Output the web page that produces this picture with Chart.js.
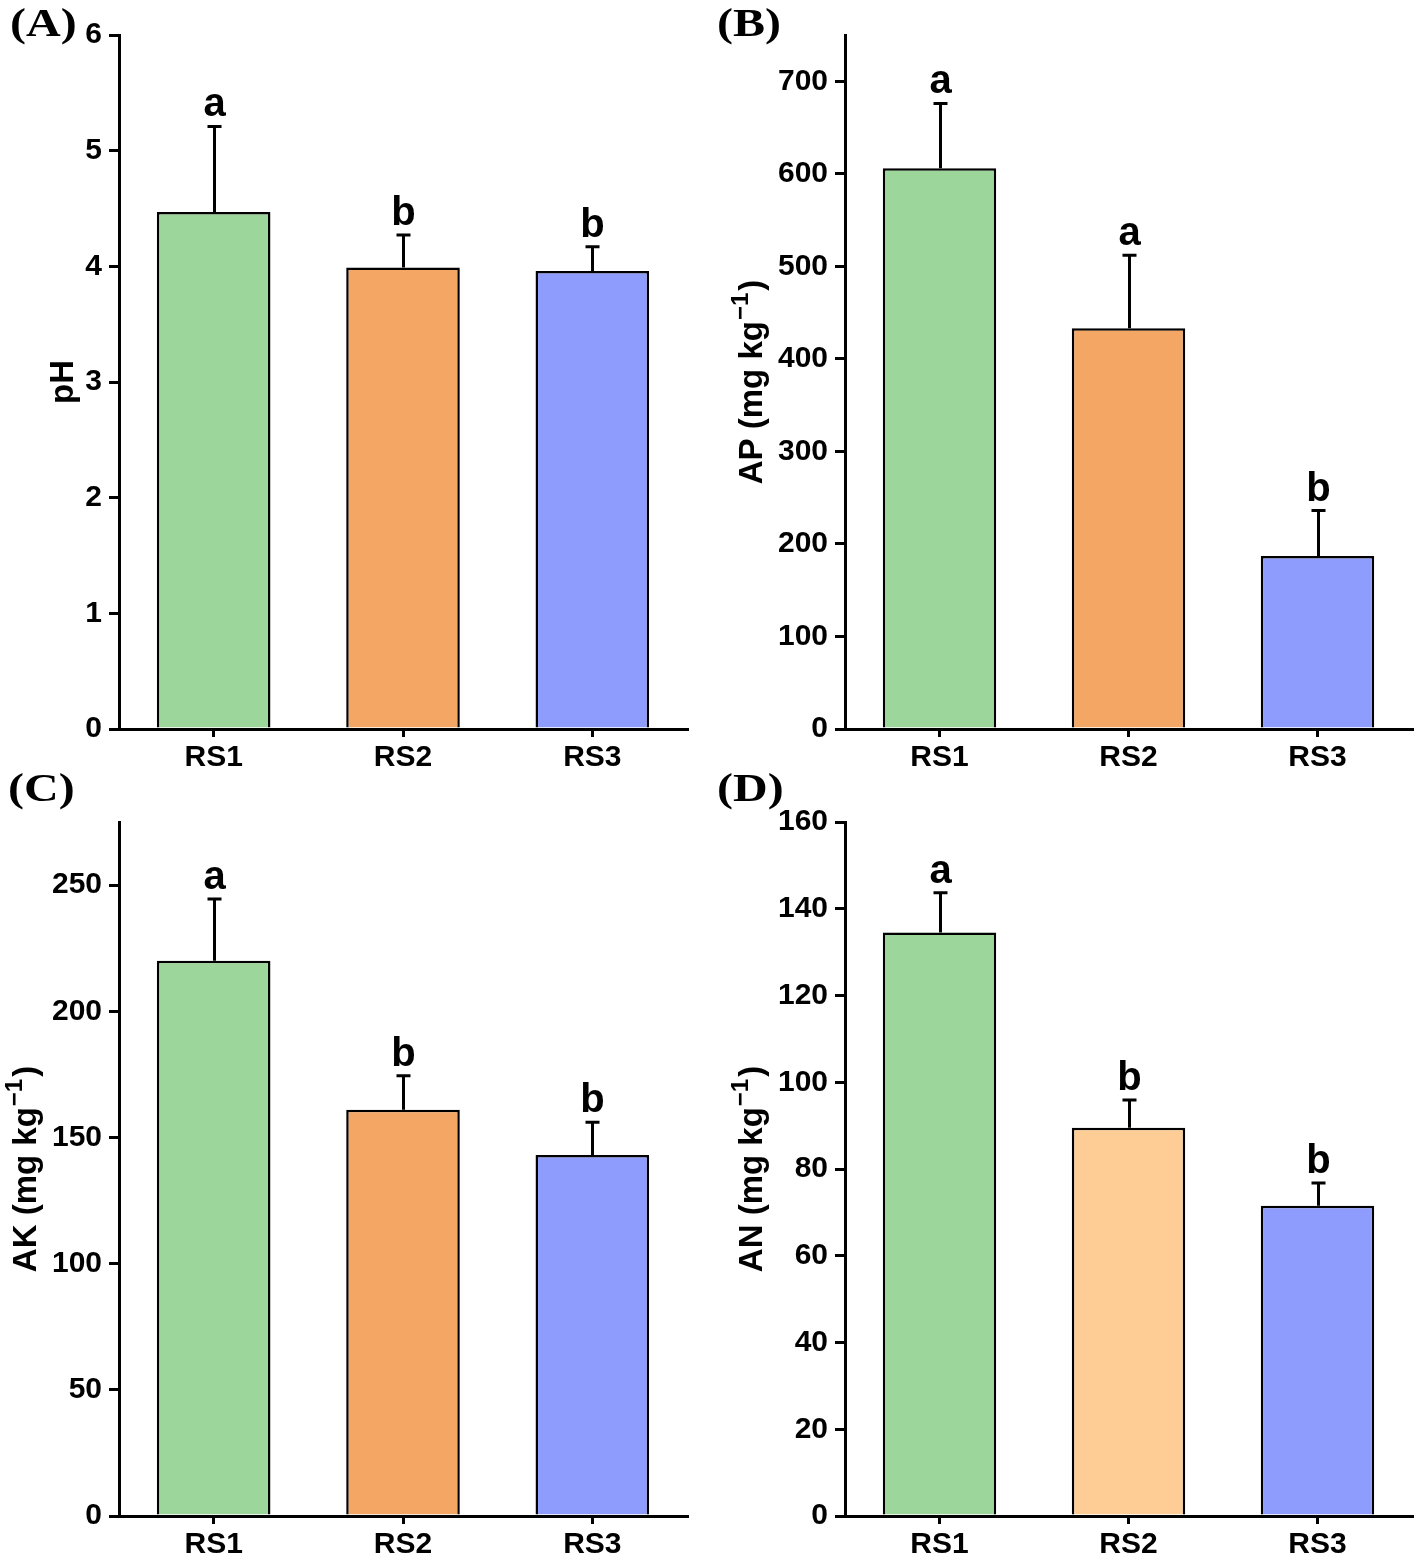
<!DOCTYPE html>
<html><head><meta charset="utf-8">
<script src="https://cdn.jsdelivr.net/npm/chart.js@4.4.1/dist/chart.umd.min.js"></script>
<style>
html,body{margin:0;padding:0;background:#fff;}
body{width:1416px;height:1562px;position:relative;overflow:hidden;}
canvas{position:absolute;}
</style></head><body>
<canvas id="cA" width="708" height="781" style="left:0px;top:0px;width:708px;height:781px"></canvas>
<canvas id="cB" width="708" height="781" style="left:708px;top:0px;width:708px;height:781px"></canvas>
<canvas id="cC" width="708" height="802" style="left:0px;top:760px;width:708px;height:802px"></canvas>
<canvas id="cD" width="708" height="802" style="left:708px;top:760px;width:708px;height:802px"></canvas>
<script>
// ---- data ----
const categories = ['RS1', 'RS2', 'RS3'];

const phMean = [4.47, 3.99, 3.96];
const phErr = [0.74, 0.28, 0.21];
const phLetters = ['a', 'b', 'b'];

const apMean = [606, 433, 187];
const apErr = [70, 79, 49];
const apLetters = ['a', 'a', 'b'];

const akMean = [220, 161, 143];
const akErr = [24.5, 13.5, 13];
const akLetters = ['a', 'b', 'b'];

const anMean = [134.5, 89.5, 71.5];
const anErr = [9.2, 6.4, 5.3];
const anLetters = ['a', 'b', 'b'];

const colorsABC = ['#9dd69b', '#f4a664', '#8e9cfd'];
const colorsD = ['#9dd69b', '#fdcd95', '#8e9cfd'];

const SANS = "'Liberation Sans', Arial, sans-serif";
const SERIF = "'Liberation Serif', 'Times New Roman', serif";

Chart.defaults.font.family = SANS;
Chart.defaults.color = '#000';

function makePanel(id, cfg) {
  const extras = {
    id: 'extras_' + id,
    afterDatasetsDraw(chart) {
      const ctx = chart.ctx;
      const y = chart.scales.y;
      const meta = chart.getDatasetMeta(0);
      ctx.save();
      ctx.strokeStyle = '#000';
      ctx.lineWidth = 3;
      ctx.fillStyle = '#000';
      meta.data.forEach((bar, i) => {
        const xc = Math.round(bar.x) + 0.5;
        const yTop = y.getPixelForValue(cfg.mean[i]);
        const yErr = y.getPixelForValue(cfg.mean[i] + cfg.err[i]);
        ctx.beginPath();
        ctx.moveTo(xc, yTop);
        ctx.lineTo(xc, yErr);
        ctx.moveTo(xc - 7, yErr);
        ctx.lineTo(xc + 7, yErr);
        ctx.stroke();
        ctx.font = 'bold 40px ' + SANS;
        ctx.textAlign = 'center';
        ctx.textBaseline = 'alphabetic';
        ctx.fillText(cfg.letters[i], xc, yErr - 10);
      });
      ctx.restore();
    },
    afterDraw(chart) {
      const ctx = chart.ctx;
      ctx.save();
      // panel label
      ctx.fillStyle = '#000';
      ctx.font = 'bold 40px ' + SERIF;
      ctx.textAlign = 'left';
      ctx.textBaseline = 'alphabetic';
      ctx.translate(cfg.labelX, cfg.labelY);
      ctx.scale(1.2, 1);
      ctx.fillText(cfg.label, 0, 0);
      ctx.restore();
      // y axis title with superscript
      ctx.save();
      const cy = (chart.chartArea.top + chart.chartArea.bottom) / 2;
      ctx.translate(cfg.titleX, cy);
      ctx.rotate(-Math.PI / 2);
      ctx.fillStyle = '#000';
      ctx.textBaseline = 'alphabetic';
      ctx.textAlign = 'left';
      const mainFont = 'bold 33px ' + SANS;
      const supFont = 'bold 24px ' + SANS;
      ctx.font = mainFont;
      const w1 = ctx.measureText(cfg.titleMain).width;
      const w3 = cfg.titleSup ? ctx.measureText(')').width : 0;
      ctx.font = supFont;
      const w2 = cfg.titleSup ? ctx.measureText(cfg.titleSup).width + 3 : 0;
      const total = w1 + w2 + w3;
      let x0 = -total / 2;
      const base = 11.8;
      ctx.font = mainFont;
      ctx.fillText(cfg.titleMain, x0, base);
      if (cfg.titleSup) {
        ctx.font = supFont;
        ctx.fillText(cfg.titleSup, x0 + w1 + 1, base - 14);
        ctx.font = mainFont;
        ctx.fillText(')', x0 + w1 + w2, base);
      }
      ctx.restore();
    }
  };

  return new Chart(document.getElementById(id), {
    type: 'bar',
    data: {
      labels: categories,
      datasets: [{
        data: cfg.mean,
        backgroundColor: cfg.colors,
        borderColor: '#000',
        borderWidth: 2.5,
        barPercentage: 0.6,
        categoryPercentage: 1.0
      }]
    },
    options: {
      responsive: false,
      animation: false,
      devicePixelRatio: 1,
      layout: { padding: cfg.padding },
      plugins: { legend: { display: false }, tooltip: { enabled: false }, title: { display: false } },
      scales: {
        x: {
          ticks: { color: '#000', font: { size: 30, weight: 'bold' }, padding: 3 },
          grid: { display: true, drawOnChartArea: false, drawTicks: true, offset: false, tickLength: 8, color: '#000', lineWidth: 3 },
          border: { display: true, color: '#000', width: 3 },
          afterFit: s => { s.height = cfg.xH; }
        },
        y: {
          min: 0,
          max: cfg.max,
          ticks: { stepSize: cfg.step, includeBounds: false, color: '#000', font: { size: 30, weight: 'bold' }, padding: 7 },
          grid: { display: true, drawOnChartArea: false, drawTicks: true, tickLength: 10, color: '#000', lineWidth: 3 },
          border: { display: true, color: '#000', width: 3 },
          afterFit: s => { s.width = cfg.yW; }
        }
      }
    },
    plugins: [extras]
  });
}

makePanel('cA', {
  mean: phMean, err: phErr, letters: phLetters, colors: colorsABC,
  max: 6, step: 1, yW: 119, xH: 52,
  padding: { top: 35, right: 21, bottom: 0, left: 0 },
  titleMain: 'pH', titleSup: '', titleX: 61,
  label: '(A)', labelX: 10, labelY: 36
});
makePanel('cB', {
  mean: apMean, err: apErr, letters: apLetters, colors: colorsABC,
  max: 750, step: 100, yW: 137, xH: 52,
  padding: { top: 35, right: 4, bottom: 0, left: 0 },
  titleMain: 'AP (mg kg', titleSup: '\u22121', titleX: 42,
  label: '(B)', labelX: 9, labelY: 36
});
makePanel('cC', {
  mean: akMean, err: akErr, letters: akLetters, colors: colorsABC,
  max: 275, step: 50, yW: 119, xH: 46,
  padding: { top: 62, right: 21, bottom: 0, left: 0 },
  titleMain: 'AK (mg kg', titleSup: '\u22121', titleX: 24,
  label: '(C)', labelX: 8, labelY: 41
});
makePanel('cD', {
  mean: anMean, err: anErr, letters: anLetters, colors: colorsD,
  max: 160, step: 20, yW: 137, xH: 46,
  padding: { top: 62, right: 4, bottom: 0, left: 0 },
  titleMain: 'AN (mg kg', titleSup: '\u22121', titleX: 42,
  label: '(D)', labelX: 9, labelY: 41
});
</script>
</body></html>
